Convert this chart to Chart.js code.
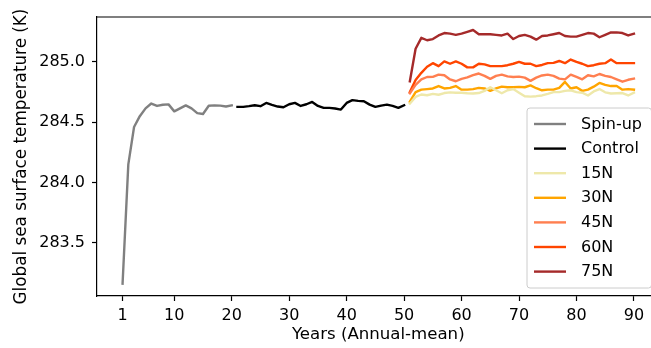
<!DOCTYPE html>
<html>
<head>
<meta charset="utf-8">
<script src="https://cdn.jsdelivr.net/npm/chart.js@4/dist/chart.umd.min.js"></script>
<style>
  html, body { margin: 0; padding: 0; background: #fff; overflow: hidden; width: 651px; height: 348px; }
  canvas { display: block; }
</style>
</head>
<body>
<canvas id="c" width="680" height="348" style="width:680px;height:348px"></canvas>
<script>
// ---- data ----
const spinupYears = [1,2,3,4,5,6,7,8,9,10,11,12,13,14,15,16,17,18,19,20];
const spinupSST = [283.16,284.15,284.46,284.55,284.615,284.655,284.635,284.645,284.648,284.59,
                   284.615,284.64,284.615,284.575,284.568,284.637,284.64,284.638,284.63,284.64];

const controlYears = [21,22,23,24,25,26,27,28,29,30,31,32,33,34,35,36,37,38,39,40,
                      41,42,43,44,45,46,47,48,49,50];
const controlSST = [284.627,284.627,284.633,284.641,284.633,284.66,284.644,284.63,284.624,284.649,
                    284.66,284.635,284.649,284.668,284.635,284.619,284.619,284.614,284.605,284.66,
                    284.683,284.677,284.674,284.646,284.627,284.638,284.646,284.635,284.619,284.641];

const expYears = [51,52,53,54,55,56,57,58,59,60,61,62,63,64,65,66,67,68,69,70,
                  71,72,73,74,75,76,77,78,79,80,81,82,83,84,85,86,87,88,89,90];

const sst15N = [284.655,284.71,284.73,284.724,284.735,284.728,284.742,284.748,284.745,284.745,
                284.74,284.738,284.742,284.76,284.79,284.765,284.74,284.765,284.775,284.745,
                284.715,284.712,284.716,284.722,284.735,284.75,284.75,284.76,284.765,284.75,
                284.745,284.722,284.755,284.775,284.748,284.738,284.74,284.742,284.722,284.745];
const sst30N = [284.67,284.75,284.77,284.775,284.78,284.8,284.78,284.785,284.8,284.77,
                284.77,284.775,284.785,284.78,284.76,284.78,284.795,284.79,284.79,284.793,
                284.79,284.805,284.782,284.765,284.77,284.77,284.785,284.834,284.78,284.79,
                284.76,284.77,284.795,284.826,284.81,284.8,284.8,284.77,284.775,284.77];
const sst45N = [284.74,284.81,284.855,284.875,284.876,284.895,284.89,284.855,284.84,284.86,
                284.872,284.89,284.904,284.885,284.86,284.885,284.895,284.88,284.875,284.878,
                284.87,284.843,284.87,284.888,284.895,284.885,284.862,284.855,284.895,284.876,
                284.856,284.89,284.88,284.9,284.885,284.875,284.855,284.836,284.852,284.862];
const sst60N = [284.75,284.85,284.91,284.96,284.99,284.965,285.005,284.985,285.005,284.985,
                284.955,284.955,284.985,284.98,284.965,284.965,284.965,284.973,284.985,285.0,
                284.985,284.985,284.965,284.975,284.99,284.992,285.008,284.99,285.02,285.0,
                284.985,284.965,284.973,284.985,284.99,285.02,284.99,284.99,284.99,284.99];
const sst75N = [284.84,285.11,285.2,285.18,285.19,285.22,285.24,285.235,285.225,285.235,
                285.25,285.265,285.23,285.23,285.23,285.225,285.22,285.235,285.19,285.215,
                285.225,285.21,285.185,285.215,285.22,285.23,285.24,285.215,285.21,285.21,
                285.225,285.24,285.235,285.205,285.225,285.245,285.245,285.24,285.22,285.235];

const xTicks = [1,10,20,30,40,50,60,70,80,90];
const yTicks = [283.5,284.0,284.5,285.0];

// ---- build ----
function pts(xs, ys) { return xs.map((x, i) => ({x: x, y: ys[i]})); }
function ds(label, xs, ys, color) {
  return { label: label, data: pts(xs, ys), borderColor: color, backgroundColor: color,
           borderWidth: 2.4, pointRadius: 0, tension: 0, fill: false,
           borderJoinStyle: 'round', borderCapStyle: 'square' };
}

const FONT = "'DejaVu Sans', sans-serif";

const spinesAndLegend = {
  id: 'spinesAndLegend',
  afterDraw(chart) {
    const ctx = chart.ctx, a = chart.chartArea;
    ctx.save();
    // top spine
    ctx.strokeStyle = '#000';
    ctx.lineWidth = 1.2;
    ctx.beginPath();
    ctx.moveTo(a.left - 0.6, a.top);
    ctx.lineTo(a.right + 1, a.top);
    ctx.stroke();
    // legend
    const bx = 527, by = 108, bw = 124.5, bh = 180, r = 3;
    ctx.beginPath();
    ctx.moveTo(bx + r, by);
    ctx.lineTo(bx + bw - r, by);
    ctx.quadraticCurveTo(bx + bw, by, bx + bw, by + r);
    ctx.lineTo(bx + bw, by + bh - r);
    ctx.quadraticCurveTo(bx + bw, by + bh, bx + bw - r, by + bh);
    ctx.lineTo(bx + r, by + bh);
    ctx.quadraticCurveTo(bx, by + bh, bx, by + bh - r);
    ctx.lineTo(bx, by + r);
    ctx.quadraticCurveTo(bx, by, bx + r, by);
    ctx.closePath();
    ctx.fillStyle = 'rgba(255,255,255,0.8)';
    ctx.fill();
    ctx.strokeStyle = '#cccccc';
    ctx.lineWidth = 1;
    ctx.stroke();
    ctx.font = '16px ' + FONT;
    ctx.textBaseline = 'middle';
    ctx.textAlign = 'left';
    chart.data.datasets.forEach((d, i) => {
      const yy = by + 16 + i * 24.6;
      ctx.strokeStyle = d.borderColor;
      ctx.lineWidth = 2.4;
      ctx.lineCap = 'butt';
      ctx.beginPath();
      ctx.moveTo(bx + 7, yy);
      ctx.lineTo(bx + 39, yy);
      ctx.stroke();
      ctx.fillStyle = '#000';
      ctx.fillText(d.label, bx + 54, yy + 0.5);
    });
    ctx.restore();
  }
};

new Chart(document.getElementById('c'), {
  type: 'line',
  data: {
    datasets: [
      ds('Spin-up', spinupYears, spinupSST, '#808080'),
      ds('Control', controlYears, controlSST, '#000000'),
      ds('15N', expYears, sst15N, '#eee8aa'),
      ds('30N', expYears, sst30N, '#ffa500'),
      ds('45N', expYears, sst45N, '#ff7f50'),
      ds('60N', expYears, sst60N, '#ff4500'),
      ds('75N', expYears, sst75N, '#a52a2a')
    ]
  },
  options: {
    responsive: false,
    animation: false,
    devicePixelRatio: 1,
    layout: { padding: { left: 0, top: 17, right: 20.5, bottom: 0 } },
    plugins: { legend: { display: false }, tooltip: { enabled: false } },
    scales: {
      x: {
        type: 'linear',
        min: -3.45, max: 94.45,
        afterBuildTicks: (s) => { s.ticks = xTicks.map(v => ({ value: v })); },
        afterFit: (s) => { s.height = 52; },
        ticks: { color: '#000', font: { family: FONT, size: 16 }, padding: 5, maxRotation: 0, autoSkip: false,
                 callback: (v) => String(v) },
        grid: { display: true, drawOnChartArea: false, drawTicks: true, tickLength: 5, tickColor: '#000', tickWidth: 1.2 },
        border: { display: true, color: '#000', width: 1.2 },
        title: { display: true, text: 'Years (Annual-mean)', color: '#000', font: { family: FONT, size: 16.6 },
                 padding: { top: 0, bottom: 3 } }
      },
      y: {
        type: 'linear',
        min: 283.058, max: 285.373,
        afterBuildTicks: (s) => { s.ticks = yTicks.map(v => ({ value: v })); },
        afterFit: (s) => { s.width = 97; },
        ticks: { color: '#000', font: { family: FONT, size: 16 }, padding: 7, autoSkip: false,
                 callback: (v) => Number(v).toFixed(1) },
        grid: { display: true, drawOnChartArea: false, drawTicks: true, tickLength: 5, tickColor: '#000', tickWidth: 1.2 },
        border: { display: true, color: '#000', width: 1.2 },
        title: { display: true, text: 'Global sea surface temperature (K)', color: '#000', font: { family: FONT, size: 16.8 },
                 padding: { top: 12, bottom: 0 } }
      }
    }
  },
  plugins: [spinesAndLegend]
});
</script>
</body>
</html>
